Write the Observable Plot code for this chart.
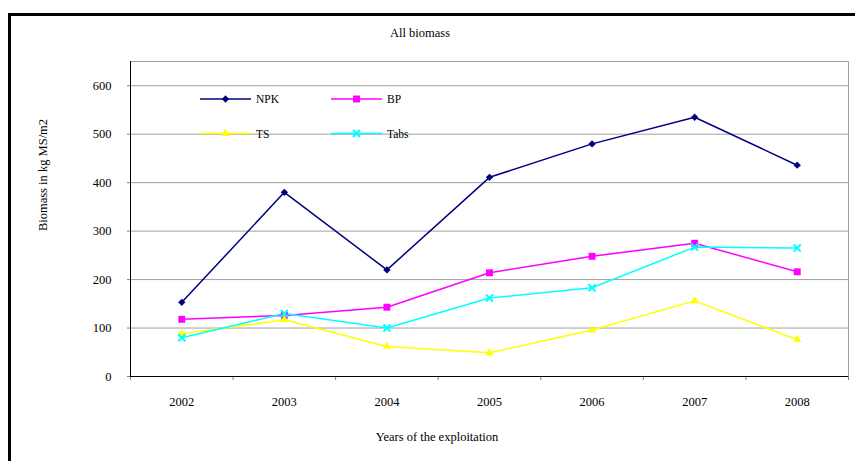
<!DOCTYPE html>
<html>
<head>
<meta charset="utf-8">
<script src="https://cdn.jsdelivr.net/npm/d3@7"></script>
<script src="https://cdn.jsdelivr.net/npm/@observablehq/plot@0.6"></script>
<style>
  html, body { margin: 0; padding: 0; background: #fff; overflow: hidden; }
  #wrap { position: relative; width: 855px; height: 461px; overflow: hidden;
          font-family: "Liberation Serif", "Times New Roman", serif; color: #000; }
  #frame { position: absolute; left: 8px; top: 13px; width: 900px; height: 520px;
           border-left: 3px solid #000; border-top: 3px solid #000; box-sizing: border-box; pointer-events: none; }
  #chart { position: absolute; left: 0; top: 0; }
  .txt { position: absolute; font-size: 12.5px; white-space: nowrap; line-height: 1; }
  #title { left: 420px; top: 27px; transform: translateX(-50%); }
  #xlabel { left: 437px; top: 431px; transform: translateX(-50%); }
  #ylabel { left: 43px; top: 175px; transform: translate(-50%, -50%) rotate(-90deg); }
  #legend { position: absolute; left: 0; top: 0; }
</style>
</head>
<body>
<div id="wrap">
  <div id="chart"></div>
  <div id="frame"></div>
  <div class="txt" id="title">All biomass</div>
  <div class="txt" id="ylabel">Biomass in kg MS/m2</div>
  <div class="txt" id="xlabel">Years of the exploitation</div>
  <svg id="legend" width="855" height="461"></svg>
</div>
<script>
// ---- data ----
const years = [2002, 2003, 2004, 2005, 2006, 2007, 2008];
const npk  = [153, 380, 220, 411, 480, 535, 436];
const bp   = [118, 126, 143, 214, 248, 275, 216];
const ts   = [88, 117, 62, 49, 96, 156, 76];
const tabs = [80, 130, 100, 162, 183, 267, 265];
const yTicks = [0, 100, 200, 300, 400, 500, 600];
const seriesNames = ["NPK", "BP", "TS", "Tabs"];
const seriesColors = ["#000080", "#ff00ff", "#ffff00", "#00ffff"];
const seriesSymbols = ["diamond2", "square", "triangle", "times"];

const seriesValues = [npk, bp, ts, tabs];
const rows = [];
seriesNames.forEach((s, i) => years.forEach((y, j) => rows.push({series: s, year: y, value: seriesValues[i][j]})));
const boundaries = d3.range(years[0] - 0.5, years[years.length - 1] + 1, 1);
const xDomain = [years[0] - 0.5, years[years.length - 1] + 0.5];
const yDomain = [0, 650];
const FONT = "'Liberation Serif', 'Times New Roman', serif";

const dotMarks = seriesNames.map((s, i) => {
  const sym = seriesSymbols[i];
  const data = rows.filter(d => d.series === s);
  if (sym === "times") {
    return Plot.dot(data, {x: "year", y: "value", symbol: sym, r: 3.3, stroke: seriesColors[i], strokeWidth: 2, fill: "none"});
  }
  const r = sym === "square" ? 3.9 : sym === "diamond2" ? 3.3 : 3.1;
  return Plot.dot(data, {x: "year", y: "value", symbol: sym, r, fill: seriesColors[i], stroke: "none"});
});

const chart = Plot.plot({
  width: 855,
  height: 461,
  marginLeft: 130,
  marginRight: 7,
  marginTop: 61,
  marginBottom: 85,
  style: {fontFamily: FONT, fontSize: "12.5px", color: "#000", background: "transparent"},
  x: {domain: xDomain, label: null},
  y: {domain: yDomain, label: null},
  color: {domain: seriesNames, range: seriesColors},
  marks: [
    Plot.ruleY(yTicks.filter(d => d > 0), {stroke: "#a0a0a0", strokeWidth: 1}),
    Plot.ruleY([yDomain[1]], {stroke: "#a0a0a0"}),
    Plot.ruleX([xDomain[1]], {stroke: "#a0a0a0"}),
    Plot.axisY(yTicks, {tickSize: 3, tickPadding: 16, stroke: "#808080", fill: "#000", label: null, fontSize: 12.5}),
    Plot.axisX(boundaries, {tickSize: 4, tickFormat: () => "", stroke: "#808080", label: null}),
    Plot.axisX(years, {tickSize: 0, tickPadding: 21, tickFormat: d => String(d), fill: "#000", label: null, fontSize: 12.5}),
    Plot.line(rows, {x: "year", y: "value", z: "series", stroke: "series", strokeWidth: 1.5}),
    ...dotMarks,
    Plot.ruleX([xDomain[0]], {stroke: "#000", strokeWidth: 1}),
    Plot.ruleY([0], {stroke: "#000", strokeWidth: 1})
  ]
});
document.getElementById("chart").appendChild(chart);

// ---- legend (inside the plot area, as in the reference) ----
const lg = d3.select("#legend");
const legendPos = [
  {lx: 200, ly: 99}, {lx: 331, ly: 99},
  {lx: 200, ly: 133.5}, {lx: 331, ly: 133.5}
];
const symMap = {diamond2: d3.symbolDiamond2, square: d3.symbolSquare, triangle: d3.symbolTriangle, times: d3.symbolTimes};
seriesNames.forEach((s, i) => {
  const p = legendPos[i];
  const g = lg.append("g");
  g.append("line").attr("x1", p.lx).attr("x2", p.lx + 51).attr("y1", p.ly).attr("y2", p.ly)
    .attr("stroke", seriesColors[i]).attr("stroke-width", 1.5);
  const sym = seriesSymbols[i];
  const r = sym === "square" ? 3.9 : sym === "diamond2" ? 3.3 : sym === "times" ? 3.3 : 3.1;
  const path = d3.symbol(symMap[sym], r * r * Math.PI)();
  const sp = g.append("path").attr("d", path).attr("transform", `translate(${p.lx + 25.5},${p.ly})`);
  if (sym === "times") sp.attr("fill", "none").attr("stroke", seriesColors[i]).attr("stroke-width", 2);
  else sp.attr("fill", seriesColors[i]);
  g.append("text").attr("x", p.lx + 56).attr("y", p.ly).attr("dy", "0.35em")
    .attr("font-family", FONT).attr("font-size", 11.5)
    .attr("fill", "#000").text(s);
});
</script>
</body>
</html>
